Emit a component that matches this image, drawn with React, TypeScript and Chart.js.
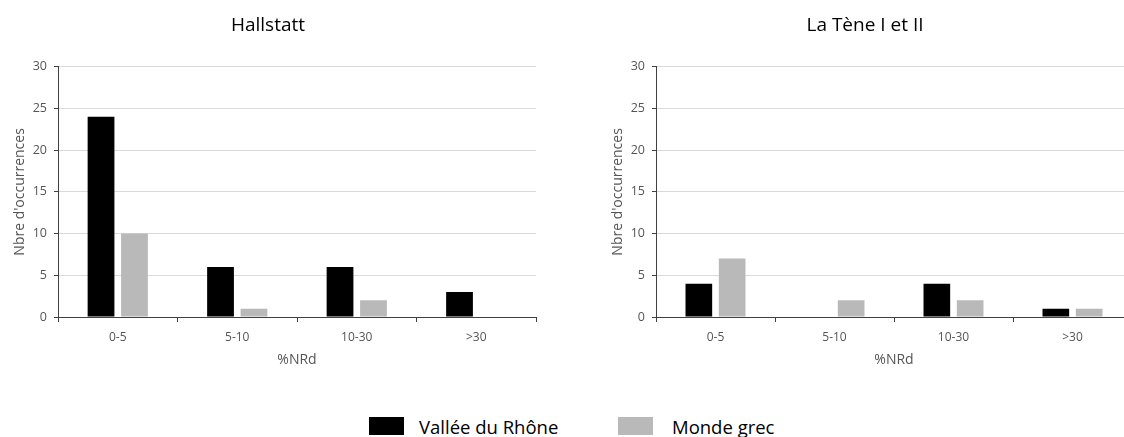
import React, { useEffect, useRef } from "react";
import { Chart, registerables } from "chart.js";

Chart.register(...registerables);

const categories = ["0-5", "5-10", "10-30", ">30"];
const seriesNames = ["Vallée du Rhône", "Monde grec"];
const hallstattRhone = [24, 6, 6, 3];
const hallstattGrec = [10, 1, 2, 0];
const laTeneRhone = [4, 0, 4, 1];
const laTeneGrec = [7, 2, 2, 1];
const yTitle = "Nbre d'occurrences";
const xTitle = "%NRd";
const yMax = 30;
const yStep = 5;

const FONT = "'Open Sans', 'DejaVu Sans', sans-serif";
const BLACK = "#000000";
const GREY = "#b9b9b9";
const TEXT = "#555555";
const AXIS = "#404040";

function makeConfig(title: string, rhone: number[], grec: number[], padRight: number): any {
  return {
    type: "bar",
    data: {
      labels: categories,
      datasets: [
        { label: seriesNames[0], data: rhone, backgroundColor: BLACK, borderWidth: 0, categoryPercentage: 0.56, barPercentage: 0.8 },
        { label: seriesNames[1], data: grec, backgroundColor: GREY, borderWidth: 0, categoryPercentage: 0.56, barPercentage: 0.8 },
      ],
    },
    options: {
      animation: false,
      responsive: false,
      maintainAspectRatio: false,
      layout: { padding: { left: 0, right: padRight, top: 0, bottom: 0 } },
      plugins: {
        legend: { display: false },
        tooltip: { enabled: false },
        title: {
          display: true,
          text: title,
          color: "#000",
          font: { family: FONT, size: 19, weight: "normal" },
          padding: { top: 14, bottom: 30 },
        },
      },
      scales: {
        x: {
          grid: { display: true, drawOnChartArea: false, drawTicks: true, tickLength: 5, tickColor: AXIS, offset: true },
          border: { color: AXIS, width: 1 },
          ticks: { color: TEXT, font: { family: FONT, size: 12 }, padding: 8, maxRotation: 0 },
          title: { display: true, text: xTitle, color: TEXT, font: { family: FONT, size: 14 }, padding: { top: 2, bottom: 2 } },
          afterFit: (s: any) => { s.height = 53; },
        },
        y: {
          min: 0,
          max: yMax,
          ticks: { stepSize: yStep, color: TEXT, font: { family: FONT, size: 12.5 }, padding: 7 },
          grid: { color: "#d9d9d9", tickColor: AXIS, tickLength: 4, drawTicks: true },
          border: { color: AXIS, width: 1 },
          title: { display: true, text: yTitle, color: TEXT, font: { family: FONT, size: 14 }, padding: { top: 12, bottom: 0 } },
          afterFit: (s: any) => { s.width = 58; },
        },
      },
    },
  };
}

function BarChart(props: { title: string; rhone: number[]; grec: number[]; width: number; height: number; padRight: number; left: number }) {
  const ref = useRef<HTMLCanvasElement | null>(null);
  useEffect(() => {
    if (!ref.current) return;
    const chart = new Chart(ref.current, makeConfig(props.title, props.rhone, props.grec, props.padRight));
    return () => chart.destroy();
  }, []);
  return (
    <canvas
      ref={ref}
      width={props.width}
      height={props.height}
      style={{ position: "absolute", left: props.left, top: 0, width: props.width, height: props.height }}
    />
  );
}

export default function App() {
  const legendText: React.CSSProperties = {
    position: "absolute",
    top: 416,
    fontFamily: FONT,
    fontSize: 18.5,
    lineHeight: "22px",
    color: "#000",
    whiteSpace: "nowrap",
  };
  return (
    <div style={{ position: "absolute", left: 0, top: 0, width: 1124, height: 437, overflow: "hidden", background: "#fff" }}>
      <BarChart title="Hallstatt" rhone={hallstattRhone} grec={hallstattGrec} width={560} height={370} padRight={24} left={0} />
      <BarChart title="La Tène I et II" rhone={laTeneRhone} grec={laTeneGrec} width={534} height={370} padRight={0} left={598} />
      <div style={{ position: "absolute", left: 369, top: 417, width: 35, height: 18, background: BLACK }} />
      <div style={{ ...legendText, left: 419 }}>{seriesNames[0]}</div>
      <div style={{ position: "absolute", left: 618, top: 417, width: 35, height: 18, background: GREY }} />
      <div style={{ ...legendText, left: 672 }}>{seriesNames[1]}</div>
    </div>
  );
}
